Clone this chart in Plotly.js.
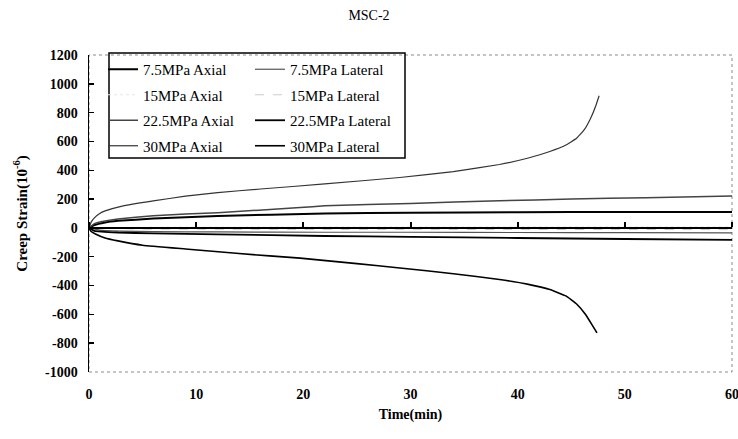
<!DOCTYPE html>
<html>
<head>
<meta charset="utf-8">
<script src="https://cdn.plot.ly/plotly-3.0.1.min.js"></script>
<style>html,body{margin:0;padding:0;background:#fff;}#chart{width:738px;height:439px;}</style>
</head>
<body>
<div id="chart"></div>
<script>
// ---- data ----
const chartTitle = "MSC-2";
const xTitle = "Time(min)";
const yTitle = "Creep Strain(10<sup>-6</sup>)";

const names = ["7.5MPa Axial","15MPa Axial","22.5MPa Axial","30MPa Axial",
               "7.5MPa Lateral","15MPa Lateral","22.5MPa Lateral","30MPa Lateral"];

const t75A  = [0,0.5,1.5,2.7,6,12,22,30,40,50,60];
const v75A  = [0,20,38,49,65,83,100,105,109,110,111];
const t15A  = [0,5,10,20,30,40,50,60];
const v15A  = [0,4,5,6,6,7,7,8];
const t225A = [0,0.5,1.5,2.7,6,12,19.7,22,30,38.3,45,52,60];
const v225A = [0,30,48,62,85,106,141,153,170,188,200,210,222];
const t30A  = [0,0.2,0.5,1,1.5,3,6,9,12,16,22,29,34,38.3,41,43,44.5,45.5,46.2,46.8,47.3,47.6];
const v30A  = [0,40,70,100,118,150,188,220,245,270,305,350,390,440,485,530,575,622,680,760,850,917];

const t75L  = [0,1,3,6,12,22,30,40,50,60];
const v75L  = [0,-15,-22,-26,-28,-30,-30,-32,-33,-35];
const t15L  = [0,5,10,20,30,40,50,60];
const v15L  = [0,-8,-9,-10,-10,-11,-11,-12];
const t225L = [0,0.5,2.7,6,12,22,30,40,50,60];
const v225L = [0,-20,-32,-38,-45,-56,-62,-70,-77,-83];
const t30L  = [0,0.2,0.6,1.5,2.7,5,9,14,19.7,25,29,34,38.3,41,43,44.5,45.5,46.3,46.9,47.4];
const v30L  = [0,-25,-42,-70,-90,-120,-146,-178,-210,-248,-278,-318,-358,-392,-428,-472,-528,-598,-668,-729];

const xTicks = [0,10,20,30,40,50,60];
const yTicks = [-1000,-800,-600,-400,-200,0,200,400,600,800,1000,1200];

// ---- styles ----
const xs = [t75A,t15A,t225A,t30A,t75L,t15L,t225L,t30L];
const ys = [v75A,v15A,v225A,v30A,v75L,v15L,v225L,v30L];
const lineStyles = [
  {color:"#000000", width:2},
  {color:"#e6e6e6", width:1, dash:"dot"},
  {color:"#444444", width:1.5},
  {color:"#333333", width:1.2},
  {color:"#555555", width:1.2},
  {color:"#cccccc", width:1, dash:"dash"},
  {color:"#000000", width:1.8},
  {color:"#000000", width:1.6}
];

const traces = xs.map((x,i)=>({
  type:"scatter", mode:"lines", x:x, y:ys[i], name:names[i],
  line:Object.assign({shape:"spline", smoothing:0.3}, lineStyles[i]),
  legend: i<4 ? "legend" : "legend2",
  legendgroup:"g"+i,
  hoverinfo:"skip"
}));
// carrier trace so the zero-crossing time axis is drawn
traces.push({type:"scatter", mode:"lines", x:[null], y:[null], xaxis:"x2", yaxis:"y",
             showlegend:false, hoverinfo:"skip"});

const serif = "Liberation Serif, Times New Roman, serif";
const plotL = 89, plotR = 732, plotT = 55, plotB = 372;
const W = 738, H = 439;
const pw = plotR-plotL, ph = plotB-plotT;
const px = v => (v-plotL)/pw;
const py = v => (plotB-v)/ph;

const legendCommon = {
  bgcolor:"rgba(0,0,0,0)", borderwidth:0,
  font:{family:serif, size:15, color:"#000"},
  traceorder:"grouped", tracegroupgap:3,
  xanchor:"left", yanchor:"top", yref:"paper", xref:"paper"
};

const layout = {
  width:W, height:H,
  margin:{l:plotL, r:W-plotR, t:plotT, b:H-plotB},
  paper_bgcolor:"#fff", plot_bgcolor:"#fff",
  font:{family:serif, color:"#000"},
  title:{text:chartTitle, font:{family:serif, size:14, color:"#000"},
         x:0.5, xref:"container", xanchor:"center", y:1-15/H, yref:"container", yanchor:"middle"},
  xaxis:{range:[0,60], tickvals:xTicks, ticktext:xTicks.map(String), showline:false, ticks:"",
         showgrid:false, zeroline:false, tickfont:{family:serif, size:14, color:"#000", weight:"bold"},
         ticklabelstandoff:12, ticklabeloverflow:"allow",
         title:{text:xTitle, font:{family:serif, size:14, color:"#000", weight:"bold"}, standoff:8}},
  xaxis2:{overlaying:"x", matches:"x", anchor:"free", position:1000/2200, side:"top",
          showline:true, linecolor:"#000", linewidth:2.5, ticks:"outside", ticklen:5, tickwidth:2,
          tickcolor:"#000", tickvals:xTicks, showticklabels:false, showgrid:false, zeroline:false},
  yaxis:{range:[-1000,1200], tickvals:yTicks, ticktext:yTicks.map(String), showline:true,
         linecolor:"#000", linewidth:1.5, ticks:"inside", ticklen:5, tickwidth:1.5, tickcolor:"#000",
         showgrid:false, zeroline:false, tickfont:{family:serif, size:14, color:"#000", weight:"bold"},
         ticklabelstandoff:7,
         title:{text:yTitle, font:{family:serif, size:15, color:"#000", weight:"bold"}, standoff:14}},
  legend:Object.assign({x:px(103), y:py(53)}, legendCommon),
  legend2:Object.assign({x:px(250), y:py(53)}, legendCommon),
  shapes:[
    {type:"rect", xref:"paper", yref:"paper", x0:0, x1:1, y0:0, y1:1,
     line:{color:"#8a8a8a", width:1, dash:"dot"}, layer:"below"},
    {type:"rect", xref:"paper", yref:"paper", x0:px(109), x1:px(405), y0:py(158), y1:py(53),
     line:{color:"#000", width:1.5}, fillcolor:"rgba(0,0,0,0)"}
  ],
  showlegend:true
};

Plotly.newPlot("chart", traces, layout, {staticPlot:true, displayModeBar:false});
</script>
</body>
</html>
